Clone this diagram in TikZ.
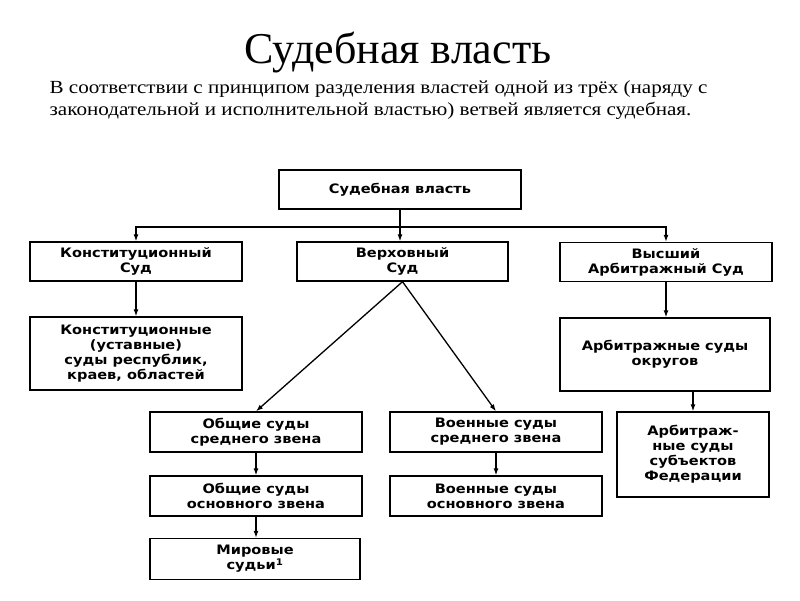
\documentclass[tikz,border=0pt]{standalone}
\usepackage{fontspec}
\setmainfont{Liberation Serif}
\newfontfamily\introfont[FakeStretch=1.14]{Liberation Serif}
\newfontfamily\boxfont[FakeStretch=1.12]{DejaVu Sans}
\usetikzlibrary{arrows.meta}

\tikzset{
  box/.style={draw, line width=1.4pt, minimum width=212pt, minimum height=39pt,
    inner sep=0pt, align=center,
    font=\boxfont\bfseries\fontsize{13}{15}\selectfont},
  intro/.style={anchor=base west, inner sep=0pt, font=\introfont\fontsize{18.5}{22}\selectfont}
}

\begin{document}
\begin{tikzpicture}[x=1pt, y=-1pt, line width=1.3pt, >={Latex[length=7pt,width=5pt]}]
  \useasboundingbox (0,0) rectangle (800,600);

  \node[anchor=base, inner sep=0pt, font=\fontsize{44}{48}\selectfont] (title) at (398,63) {Судебная власть};
  \node[intro] (intro1) at (49,93) {В соответствии с принципом разделения властей одной из трёх (наряду с};
  \node[intro] (intro2) at (49,115) {законодательной и исполнительной властью) ветвей является судебная.};

  \node[box, minimum width=242pt] (vlast) at (400,189.5) {Судебная власть};
  \node[box] (konst) at (136,261.5) {Конституционный\\Суд};
  \node[box, minimum width=211pt] (verkh) at (402.5,261.5) {Верховный\\Суд};
  \node[box] (vyssh) at (666,262) {Высший\\Арбитражный Суд};
  \node[box, minimum height=73pt] (konstreg) at (136,353.5) {Конституционные\\(уставные)\\суды республик,\\краев, областей};
  \node[box, minimum width=210pt, minimum height=73pt] (okrug) at (665,354.5) {Арбитражные суды\\округов};
  \node[box, minimum width=152pt, minimum height=85pt] (subj) at (693,454.5) {Арбитраж-\\ные суды\\субъектов\\Федерации};
  \node[box, minimum height=40pt] (obsred) at (256,432) {Общие суды\\среднего звена};
  \node[box, minimum height=40pt] (voensred) at (496,432) {Военные суды\\среднего звена};
  \node[box, minimum height=40pt] (obosn) at (256,496) {Общие суды\\основного звена};
  \node[box, minimum height=40pt] (voenosn) at (496,496) {Военные суды\\основного звена};
  \node[box, minimum width=210pt, minimum height=41pt] (mir) at (255,559) {Мировые\\судьи\textsuperscript{1}};

  \coordinate (bus) at (400,227);
  \draw[->] (vlast.south) -- (vlast.south |- verkh.north);
  \draw[->] (bus) -| (konst.north);
  \draw[->] (bus) -| (vyssh.north);
  \draw[->] (konst) -- (konstreg);
  \draw[->] (vyssh.south) -- (vyssh.south |- okrug.north);
  \draw[->] (subj.north |- okrug.south) -- (subj.north);
  \draw[->] (verkh.south) -- (obsred.north);
  \draw[->] (verkh.south) -- (voensred.north);
  \draw[->] (obsred) -- (obosn);
  \draw[->] (voensred) -- (voenosn);
  \draw[->] (obosn.south) -- (obosn.south |- mir.north);
\end{tikzpicture}
\end{document}
